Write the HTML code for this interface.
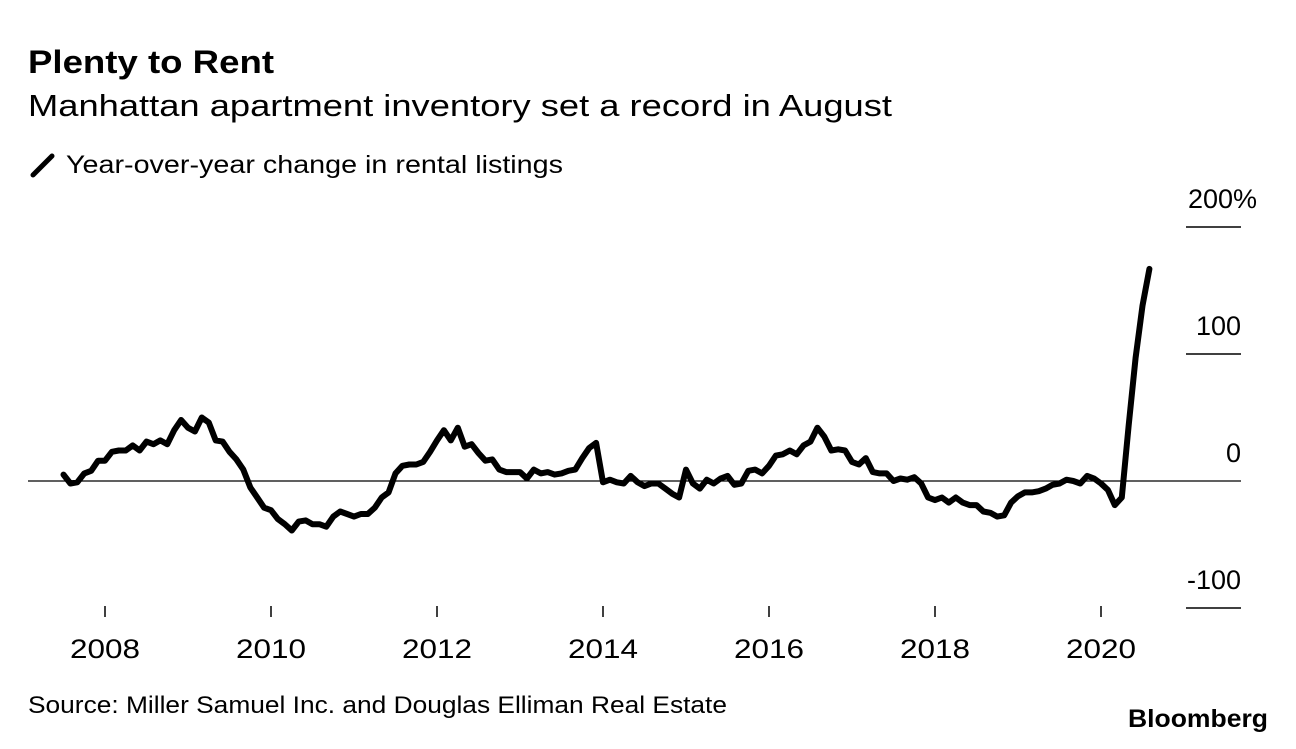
<!DOCTYPE html>
<html><head><meta charset="utf-8"><style>
body{margin:0;background:#fff;font-family:"Liberation Sans",sans-serif;}
svg text{font-family:"Liberation Sans",sans-serif;}
</style></head><body>
<svg width="1296" height="744" viewBox="0 0 1296 744">
<text x="28" y="73" font-size="32" font-weight="bold" fill="#000" textLength="246" lengthAdjust="spacingAndGlyphs">Plenty to Rent</text>
<text x="28" y="116" font-size="31" fill="#000" textLength="864" lengthAdjust="spacingAndGlyphs">Manhattan apartment inventory set a record in August</text>
<line x1="33" y1="175" x2="52" y2="156" stroke="#000" stroke-width="5" stroke-linecap="round"/>
<text x="66" y="173" font-size="25" fill="#000" textLength="497" lengthAdjust="spacingAndGlyphs">Year-over-year change in rental listings</text>
<g id="yaxis"></g><g id="xaxis"></g><g id="series"></g>
<text x="28" y="713" font-size="24" fill="#000" textLength="699" lengthAdjust="spacingAndGlyphs">Source: Miller Samuel Inc. and Douglas Elliman Real Estate</text>
<text x="1268" y="727" font-size="25" font-weight="bold" text-anchor="end" fill="#000" textLength="140" lengthAdjust="spacingAndGlyphs">Bloomberg</text>
</svg>
<script>
const startYear = 2007, startMonth = 6; // July 2007 (0-based month)
const values = [5,-2,-1,6,8,16,
16,23,24,24,28,24,31,29,32,29,40,48,
42,39,50,46,32,31,23,17,9,-5,-13,-21,
-23,-30,-34,-39,-32,-31,-34,-34,-36,-28,-24,-26,
-28,-26,-26,-21,-13,-9,6,12,13,13,15,23,
32,40,32,42,27,29,22,16,17,9,7,7,
7,2,9,6,7,5,6,8,9,18,26,30,
-1,1,-1,-2,4,-1,-4,-2,-2,-6,-10,-13,
9,-2,-6,1,-2,2,4,-3,-2,8,9,6,
12,20,21,24,21,28,31,42,35,24,25,24,
15,13,18,7,6,6,0,2,1,3,-2,-13,
-15,-13,-17,-13,-17,-19,-19,-24,-25,-28,-27,-17,
-12,-9,-9,-8,-6,-3,-2,1,0,-2,4,2,
-2,-7,-19,-13,44,97,138,167];
const yTicks = [200,100,0,-100];
const yTickLabels = ["200%","100","0","-100"];
const xTicks = [2008,2010,2012,2014,2016,2018,2020];
const NS="http://www.w3.org/2000/svg";
function xScale(t){return 105+(t-2008)*83.0;}
function yScale(v){return 481-v*1.27;}
const ya=document.getElementById('yaxis'), xa=document.getElementById('xaxis'), se=document.getElementById('series');
yTicks.forEach((v,i)=>{
  const y=yScale(v);
  const l=document.createElementNS(NS,'line');
  
  
  if(v===0){l.setAttribute('x1',28);}else{l.setAttribute('x1',1186);}
  l.setAttribute('x2',1241);l.setAttribute('y1',y);l.setAttribute('y2',y);
  l.setAttribute('stroke','#000');l.setAttribute('stroke-width',v===0?1.3:1.6);
  ya.appendChild(l);
  const lab=yTickLabels[i];
  const pct=lab.endsWith('%');
  const t=document.createElementNS(NS,'text');
  
  
  t.setAttribute('x',pct?1188:1241);t.setAttribute('y',y-19);t.setAttribute('text-anchor',pct?'start':'end');
  t.setAttribute('font-size','27');t.textContent=lab;
  ya.appendChild(t);
});
xTicks.forEach(yr=>{
  const x=xScale(yr);
  const l=document.createElementNS(NS,'line');
  
  
  l.setAttribute('x1',x);l.setAttribute('x2',x);l.setAttribute('y1',606);l.setAttribute('y2',617);
  l.setAttribute('stroke','#000');l.setAttribute('stroke-width',1.5);
  xa.appendChild(l);
  const t=document.createElementNS(NS,'text');
  
  
  t.setAttribute('x',x);t.setAttribute('y',658);t.setAttribute('text-anchor','middle');
  t.setAttribute('font-size','27');t.setAttribute('textLength','70');t.setAttribute('lengthAdjust','spacingAndGlyphs');
  t.textContent=yr;
  xa.appendChild(t);
});
const pts=values.map((v,i)=>{const t=startYear+(startMonth+i)/12;return xScale(t).toFixed(1)+','+yScale(v).toFixed(1);});
const p=document.createElementNS(NS,'polyline');


p.setAttribute('points',pts.join(' '));
p.setAttribute('fill','none');p.setAttribute('stroke','#000');p.setAttribute('stroke-width','6');
p.setAttribute('stroke-linejoin','round');p.setAttribute('stroke-linecap','round');
se.appendChild(p);
</script>
</body></html>
